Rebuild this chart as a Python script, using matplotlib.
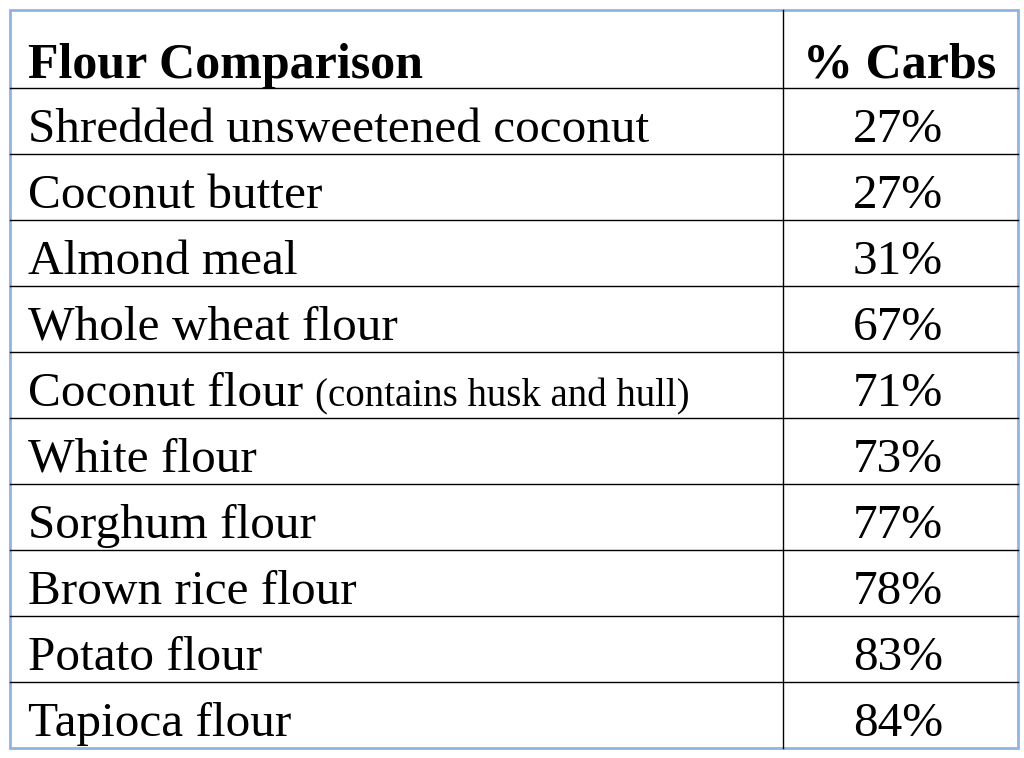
"""Flour comparison table drawn with matplotlib."""

import matplotlib
import matplotlib.pyplot as plt

matplotlib.use("Agg")

# Table data
header_left = "Flour Comparison"
header_right = "% Carbs"
flours = [
    "Shredded unsweetened coconut",
    "Coconut butter",
    "Almond meal",
    "Whole wheat flour",
    "Coconut flour",
    "White flour",
    "Sorghum flour",
    "Brown rice flour",
    "Potato flour",
    "Tapioca flour",
]
notes = ["", "", "", "", "(contains husk and hull)", "", "", "", "", ""]
carbs = [27, 27, 31, 67, 71, 73, 77, 78, 83, 84]

FONT = "Liberation Serif"
W, H = 1024, 758

fig = plt.figure(figsize=(W / 100, H / 100), dpi=100)
ax = fig.add_axes([0, 0, 1, 1])
ax.set_xlim(0, W)
ax.set_ylim(H, 0)
ax.axis("off")

# Outer blue frame
ax.add_patch(plt.Rectangle((10, 10), 1008, 738, fill=False,
                           edgecolor="#8eb4e3", linewidth=2))

# Grid lines
top, header_bottom, row_h = 10, 88, 66
x_left, x_div, x_right = 10, 783, 1018
n = len(flours)
for i in range(n):
    y = header_bottom + i * row_h
    ax.plot([x_left, x_right], [y, y], color="black", linewidth=1)
ax.plot([x_div, x_div], [top, H - 10], color="black", linewidth=1)

# Header
ax.text(28, 78, header_left, fontfamily=FONT, fontweight="bold",
        fontsize=36, va="baseline", ha="left")
ax.text(900, 78, header_right, fontfamily=FONT, fontweight="bold",
        fontsize=36, va="baseline", ha="center")

fig.canvas.draw()
renderer = fig.canvas.get_renderer()
inv = ax.transData.inverted()

for i, (name, note, c) in enumerate(zip(flours, notes, carbs)):
    base = header_bottom + i * row_h + 54
    t = ax.text(28, base, name, fontfamily=FONT, fontsize=35.5,
                va="baseline", ha="left")
    if note:
        bb = t.get_window_extent(renderer)
        x_end = inv.transform((bb.x1, bb.y0))[0]
        ax.text(x_end + 12, base, note, fontfamily=FONT, fontsize=28,
                va="baseline", ha="left")
    ax.text(898, base, f"{c}%", fontfamily=FONT, fontsize=35.5,
            va="baseline", ha="center")

fig.savefig("out.png", dpi=100, facecolor="white")
plt.close(fig)
